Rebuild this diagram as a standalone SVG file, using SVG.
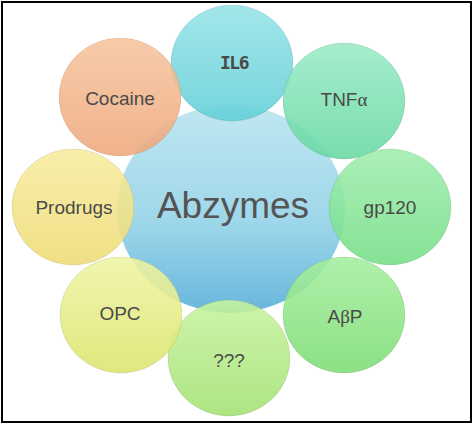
<svg xmlns="http://www.w3.org/2000/svg" width="475" height="426" viewBox="0 0 475 426">
  <defs>
    <linearGradient id="gCenter" x1="0" y1="0" x2="0" y2="1">
      <stop offset="0" stop-color="#bfe7f1"/>
      <stop offset="0.55" stop-color="#9fd7ea"/>
      <stop offset="1" stop-color="#68b7dc"/>
    </linearGradient>
    <linearGradient id="gIL6" x1="0" y1="0" x2="0" y2="1">
      <stop offset="0" stop-color="#95e3e7"/>
      <stop offset="1" stop-color="#62cfd7"/>
    </linearGradient>
    <linearGradient id="gTNF" x1="0" y1="0" x2="0" y2="1">
      <stop offset="0" stop-color="#9aebc6"/>
      <stop offset="1" stop-color="#66d8a2"/>
    </linearGradient>
    <linearGradient id="gGP" x1="0" y1="0" x2="0" y2="1">
      <stop offset="0" stop-color="#a0edae"/>
      <stop offset="1" stop-color="#74de86"/>
    </linearGradient>
    <linearGradient id="gAB" x1="0" y1="0" x2="0" y2="1">
      <stop offset="0" stop-color="#a4ee9e"/>
      <stop offset="1" stop-color="#7cdc74"/>
    </linearGradient>
    <linearGradient id="gQ" x1="0" y1="0" x2="0" y2="1">
      <stop offset="0" stop-color="#c8f3a0"/>
      <stop offset="1" stop-color="#a2e171"/>
    </linearGradient>
    <linearGradient id="gOPC" x1="0" y1="0" x2="0" y2="1">
      <stop offset="0" stop-color="#eff4a2"/>
      <stop offset="1" stop-color="#dbe56d"/>
    </linearGradient>
    <linearGradient id="gPro" x1="0" y1="0" x2="0" y2="1">
      <stop offset="0" stop-color="#f7ec9e"/>
      <stop offset="1" stop-color="#eedb74"/>
    </linearGradient>
    <linearGradient id="gCoc" x1="0" y1="0" x2="0" y2="1">
      <stop offset="0" stop-color="#f6c49e"/>
      <stop offset="1" stop-color="#eea87c"/>
    </linearGradient>
  </defs>
  <style>
    .sat { fill-opacity: 0.88; stroke: #000; stroke-opacity: 0.08; stroke-width: 1; }
    .lbl { font-family: "Liberation Sans", Arial, sans-serif; font-size: 19px; fill: #4a4a4a; text-anchor: middle; }
    .mono { font-family: "DejaVu Sans Mono", monospace; font-size: 18px; font-weight: bold; letter-spacing: -1.5px; }
    .greek { font-family: "Liberation Serif", serif; }
  </style>
  <rect x="0" y="0" width="475" height="426" fill="#ffffff"/>

  <g id="node-abzymes">
    <ellipse cx="231" cy="209" rx="114" ry="104" fill="url(#gCenter)"/>
    <text x="233" y="218" style="font-family:'Liberation Sans',Arial,sans-serif;font-size:37px;fill:#545454;text-anchor:middle">Abzymes</text>
  </g>

  <g id="node-il6">
    <ellipse class="sat" cx="232" cy="63" rx="61" ry="58" fill="url(#gIL6)"/>
    <text class="lbl mono" x="234" y="69">IL6</text>
  </g>
  <g id="node-tnfa">
    <ellipse class="sat" cx="344" cy="101" rx="61" ry="58" fill="url(#gTNF)"/>
    <text class="lbl" x="344" y="106">TNF<tspan class="greek">α</tspan></text>
  </g>
  <g id="node-gp120">
    <ellipse class="sat" cx="390" cy="207" rx="61" ry="58" fill="url(#gGP)"/>
    <text class="lbl" x="390" y="214">gp120</text>
  </g>
  <g id="node-abp">
    <ellipse class="sat" cx="344" cy="315" rx="61" ry="58" fill="url(#gAB)"/>
    <text class="lbl" x="345" y="323">A<tspan class="greek">β</tspan>P</text>
  </g>
  <g id="node-unknown">
    <ellipse class="sat" cx="229" cy="358" rx="61" ry="58" fill="url(#gQ)"/>
    <text class="lbl" x="229" y="367">???</text>
  </g>
  <g id="node-opc">
    <ellipse class="sat" cx="121" cy="315" rx="61" ry="58" fill="url(#gOPC)"/>
    <text class="lbl" x="120" y="320">OPC</text>
  </g>
  <g id="node-prodrugs">
    <ellipse class="sat" cx="73" cy="207" rx="61" ry="58" fill="url(#gPro)"/>
    <text class="lbl" x="74" y="214">Prodrugs</text>
  </g>
  <g id="node-cocaine">
    <ellipse class="sat" cx="120" cy="97" rx="61" ry="59" fill="url(#gCoc)"/>
    <text class="lbl" x="120" y="105">Cocaine</text>
  </g>

  <rect x="2" y="2" width="469" height="420" fill="none" stroke="#000" stroke-width="2"/>
</svg>
